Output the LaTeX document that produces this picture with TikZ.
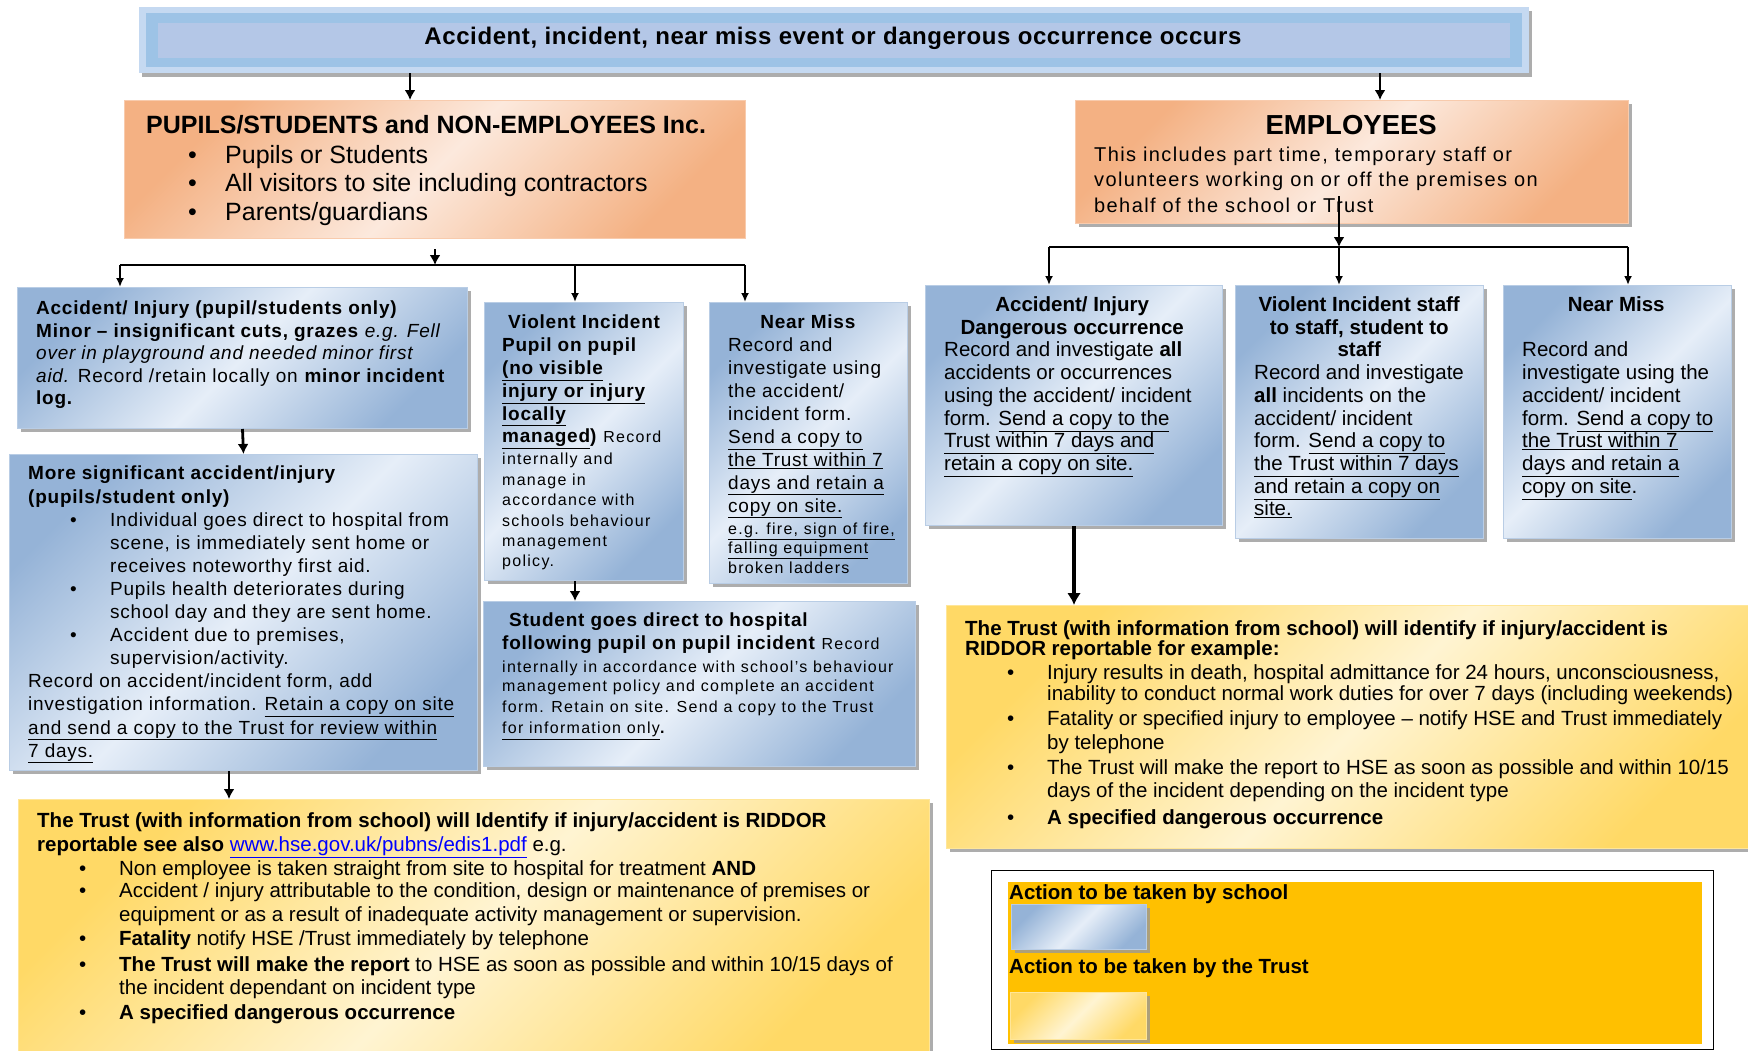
\documentclass[tikz,border=0pt]{standalone}
\usepackage{fontspec}
\setmainfont{Liberation Sans}
\newfontfamily\spfont[LetterSpace=4]{Liberation Sans}
\newfontfamily\spwide[LetterSpace=8]{Liberation Sans}
\newfontfamily\spemp[LetterSpace=7]{Liberation Sans}
\newfontfamily\sptitle[LetterSpace=2.5]{Liberation Sans}
\usetikzlibrary{arrows.meta,shadows}

\definecolor{schooldark}{HTML}{95B3D7}
\definecolor{schoollight}{HTML}{E6EEF8}
\definecolor{schooledge}{HTML}{B9CDE5}
\definecolor{groupdark}{HTML}{F4B183}
\definecolor{grouplight}{HTML}{FCE9DD}
\definecolor{groupedge}{HTML}{F8CBAD}
\definecolor{trustdark}{HTML}{FFD966}
\definecolor{trustlight}{HTML}{FFF4D2}
\definecolor{trustedge}{HTML}{FFE699}
\definecolor{evtouter}{HTML}{C5D9F1}
\definecolor{evtband}{HTML}{9DC3E6}
\definecolor{evtinner}{HTML}{B4C7E7}
\definecolor{legendfill}{HTML}{FFC000}
\definecolor{linkblue}{HTML}{0000FF}

\newcommand{\spsmall}{\spwide\fontsize{16}{20}\selectfont}
\newcommand{\bpt}[1][40pt]{\hspace*{42pt}\makebox[#1][l]{\textbullet}}
\newcommand{\bnx}{\hspace*{82pt}}

\tikzset{
  boxshadow/.style={drop shadow={shadow xshift=3pt,shadow yshift=-3.5pt,fill=black!40,opacity=0.8}},
  schoolbox/.style={anchor=north west, inner sep=0pt, draw=schooledge, line width=1pt,
    top color=schooldark, bottom color=schooldark, middle color=schoollight,
    shading angle=45, boxshadow},
  groupbox/.style={anchor=north west, inner sep=0pt, draw=groupedge, line width=1pt,
    top color=groupdark, bottom color=groupdark, middle color=grouplight,
    shading angle=45},
  trustbox/.style={anchor=north west, inner sep=0pt, draw=trustedge, line width=1pt,
    top color=trustdark, bottom color=trustdark, middle color=trustlight,
    shading angle=45, boxshadow},
  boxtext/.style={anchor=north west, inner sep=0pt, align=left,
    font=\fontsize{20.5}{22.7}\selectfont},
  flow/.style={-{Latex[length=10pt,width=11pt]}, line width=2.8pt},
  branch/.style={-{Latex[length=9pt,width=8pt]}, line width=1.9pt},
  bar/.style={line width=1.9pt}
}

\begin{document}
\begin{tikzpicture}[x=1pt,y=-1pt]
 \useasboundingbox (0,0) rectangle (1748,1050);
 \clip (0,0) rectangle (1748,1050);

 % Top event
 \node[anchor=north west, inner sep=0pt, fill=evtouter, boxshadow,
       minimum width=1390pt, minimum height=66pt] (evt) at (139,7) {};
 \fill[evtband] ([xshift=7pt,yshift=-6pt]evt.north west) rectangle ([xshift=-7pt,yshift=6pt]evt.south east);
 \fill[evtinner] ([xshift=19pt,yshift=-16pt]evt.north west) rectangle ([xshift=-19pt,yshift=15pt]evt.south east);
 \node[font=\sptitle\fontsize{24}{26}\selectfont\bfseries] (evt-t) at (833,38)
     {Accident, incident, near miss event or dangerous occurrence occurs};

 % Groups
 \node[groupbox, minimum width=621pt, minimum height=138pt] (pupils) at (124,100) {};
 \node[groupbox, boxshadow, minimum width=553pt, minimum height=123pt] (emp) at (1075,100) {};

 \node[boxtext, font=\fontsize{25}{28.5}\selectfont] (pupils-t) at (146,115)
     {\textbf{PUPILS/STUDENTS and NON-EMPLOYEES Inc.}\\[1.5pt]
      \bpt[37pt]Pupils or Students\\
      \bpt[37pt]All visitors to site including contractors\\
      \bpt[37pt]Parents/guardians};
 \node[boxtext, font=\spemp\fontsize{20}{25.5}\selectfont] (emp-t) at (1094,115)
     {\makebox[514pt][c]{\normalfont\fontsize{27.5}{28}\selectfont\bfseries EMPLOYEES}\\[1.5pt]
      This includes part time, temporary staff or\\
      volunteers working on or off the premises on\\
      behalf of the school or Trust};

 % Pupils / students branch
 \node[schoolbox, minimum width=450pt, minimum height=141pt] (pacc) at (17,287) {};
 \node[schoolbox, minimum width=468pt, minimum height=316pt] (more) at (9,454) {};
 \node[schoolbox, minimum width=199pt, minimum height=278pt] (pviol) at (484,302) {};
 \node[schoolbox, minimum width=198pt, minimum height=281pt] (pnear) at (709,302) {};
 \node[schoolbox, minimum width=432pt, minimum height=165pt] (stud) at (483,601) {};
 \node[trustbox, minimum width=911pt, minimum height=260pt] (trustL) at (18,799) {};

 \node[boxtext, font=\spfont\fontsize{19}{22.5}\selectfont] (pacc-t) at (36,301)
     {\textbf{Accident/ Injury (pupil/students  only)}\\
      \textbf{Minor – insignificant cuts, grazes} \textit{e.g. Fell}\\
      \textit{over in playground and needed minor first}\\
      \textit{aid.} Record /retain locally on \textbf{minor incident}\\
      \textbf{log.}};
 \node[boxtext, font=\spfont\fontsize{19}{23.1}\selectfont] (more-t) at (28,466)
     {\textbf{More significant accident/injury}\\
      \textbf{(pupils/student only)}\\
      \bpt Individual goes direct to hospital from\\
      \bnx scene, is immediately sent home or\\
      \bnx receives noteworthy first aid.\\
      \bpt Pupils health deteriorates during\\
      \bnx school day and they are sent home.\\
      \bpt Accident due to premises,\\
      \bnx supervision/activity.\\
      Record on accident/incident form, add\\
      investigation information. \underline{Retain a copy on site}\\
      \underline{and send a copy to the Trust for review within}\\
      \underline{7 days.}};
 \node[boxtext, font=\spfont\fontsize{19}{22.8}\selectfont] (pviol-t) at (502,315)
     {\hspace*{6pt}\textbf{Violent Incident}\\
      \textbf{Pupil on pupil}\\
      \textbf{\underline{(no visible}}\\
      \textbf{\underline{injury or injury}}\\
      \textbf{\underline{locally}}\\
      \textbf{\underline{managed})} {\spsmall Record}\\[-1pt]
      {\spsmall internally and}\\[-2.5pt]
      {\spsmall manage in}\\[-2pt]
      {\spsmall accordance with}\\[-2.5pt]
      {\spsmall schools behaviour}\\[-2.5pt]
      {\spsmall management}\\[-2.5pt]
      {\spsmall policy.}};
 \node[boxtext, font=\spfont\fontsize{19}{22.9}\selectfont] (pnear-t) at (728,315)
     {\makebox[160pt][c]{\textbf{Near Miss}}\\
      Record and\\
      investigate using\\
      the accident/\\
      incident form.\\
      \underline{Send a copy to}\\
      \underline{the Trust within 7}\\
      \underline{days and retain a}\\
      \underline{copy on site.}\\[-1pt]
      {\spsmall\underline{e.g. fire, sign of fire,}}\\[-3pt]
      {\spsmall\underline{falling equipment}}\\[-3.5pt]
      {\spsmall broken ladders}};
 \node[boxtext, font=\spfont\fontsize{19}{23}\selectfont] (stud-t) at (502,613)
     {\hspace*{7pt}\textbf{Student goes direct to hospital}\\
      \textbf{following pupil on pupil incident} {\spsmall Record}\\
      {\spsmall internally in accordance with school’s behaviour}\\[-4pt]
      {\spsmall management policy and complete an accident}\\[-2pt]
      {\spsmall form. Retain on site. Send a copy to the Trust}\\[-2pt]
      {\spsmall\underline{for information only}\textbf{.}}};
 \node[boxtext, font=\fontsize{20.5}{24}\selectfont] (trustL-t) at (37,812)
     {\textbf{The Trust (with information  from school) will Identify  if injury/accident is RIDDOR}\\
      \textbf{reportable see also} \textcolor{linkblue}{\underline{www.hse.gov.uk/pubns/edis1.pdf}} e.g.\\
      \bpt Non employee is taken straight from site to hospital for treatment \textbf{AND}\\[-2pt]
      \bpt Accident / injury attributable to the condition, design or maintenance of premises or\\
      \bnx equipment or as a result of inadequate activity management or supervision.\\
      \bpt \textbf{Fatality} notify HSE /Trust immediately by telephone\\[2pt]
      \bpt \textbf{The Trust will make the report} to HSE as soon as possible and within 10/15 days of\\[-1pt]
      \bnx the incident dependant on incident type\\[1pt]
      \bpt \textbf{A specified dangerous occurrence}};

 % Employees branch
 \node[schoolbox, minimum width=297pt, minimum height=240pt] (eacc) at (925,285) {};
 \node[schoolbox, minimum width=248pt, minimum height=253pt] (eviol) at (1235,285) {};
 \node[schoolbox, minimum width=228pt, minimum height=253pt] (enear) at (1503,285) {};
 \node[trustbox, minimum width=820pt, minimum height=243pt] (trustR) at (946,605) {};

 \node[boxtext] (eacc-t) at (944,296.5)
     {\makebox[256pt][c]{\textbf{Accident/ Injury}}\\
      \makebox[256pt][c]{\textbf{Dangerous occurrence}}\\
      Record and investigate \textbf{all}\\
      accidents or occurrences\\
      using the accident/ incident\\
      form. \underline{Send a copy to the}\\
      \underline{Trust within 7 days and}\\
      \underline{retain a copy on site.}};
 \node[boxtext] (eviol-t) at (1254,296.5)
     {\makebox[210pt][c]{\textbf{Violent Incident  staff}}\\
      \makebox[210pt][c]{\textbf{to staff, student to}}\\
      \makebox[210pt][c]{\textbf{staff}}\\
      Record and investigate\\
      \textbf{all} incidents on the\\
      accident/ incident\\
      form. \underline{Send a copy to}\\
      \underline{the Trust within 7 days}\\
      \underline{and retain a copy on}\\
      \underline{site.}};
 \node[boxtext] (enear-t) at (1522,296.5)
     {\makebox[188pt][c]{\textbf{Near Miss}}\\[22.7pt]
      Record and\\
      investigate using the\\
      accident/ incident\\
      form. \underline{Send a copy to}\\
      \underline{the Trust within 7}\\
      \underline{days and retain a}\\
      \underline{copy on site}.};
 \node[boxtext, font=\fontsize{20.5}{23}\selectfont] (trustR-t) at (965,620.5)
     {\textbf{The Trust (with information  from school) will identify  if injury/accident is}\\[-3pt]
      \textbf{RIDDOR reportable for example:}\\[1pt]
      \bpt Injury results in death, hospital admittance for 24 hours, unconsciousness,\\[-2pt]
      \bnx inability to conduct normal work duties for over 7 days (including weekends)\\[2pt]
      \bpt Fatality or specified injury to employee – notify HSE and Trust immediately\\[1pt]
      \bnx by telephone\\[2pt]
      \bpt The Trust will make the report to HSE as soon as possible and within 10/15\\
      \bnx days of the incident depending on the incident type\\[4pt]
      \bpt \textbf{A specified dangerous occurrence}};

 % Key
 \node[anchor=north west, inner sep=0pt, draw=black, line width=1.2pt, fill=white,
       minimum width=722pt, minimum height=179pt] (legend) at (991,870) {};
 \fill[legendfill] ([xshift=17pt,yshift=-12pt]legend.north west) rectangle ([xshift=-12pt,yshift=6pt]legend.south east);
 \node[boxtext] (leg-school) at (1009,884.5) {\textbf{Action  to be taken by school}};
 \node[schoolbox, minimum width=135pt, minimum height=45pt] (sw-school) at (1011,904) {};
 \node[boxtext] (leg-trust) at (1009,958.5) {\textbf{Action  to be taken by the Trust}};
 \node[trustbox, minimum width=136pt, minimum height=47pt] (sw-trust) at (1010,992) {};

 % Connectors
 \coordinate (toP) at (410,0);
 \coordinate (toE) at (1380,0);
 \draw[flow] (evt.south -| toP) -- (pupils.north -| toP);
 \draw[flow] (evt.south -| toE) -- (emp.north -| toE);

 \coordinate (pl) at (120,265);
 \coordinate (pm) at (575,265);
 \coordinate (pr) at (745,265);
 \draw[flow, shorten <=10pt] (pupils.south) -- (pupils.south |- pm);
 \draw[bar] (pl) -- (pr);
 \draw[branch] (pl) -- (pl |- pacc.north);
 \draw[branch] (pm) -- (pm |- pviol.north);
 \draw[branch] (pr) -- (pr |- pnear.north);
 \draw[flow] (pacc.south) -- (more.north);
 \coordinate (toT) at (229,0);
 \draw[flow] (more.south -| toT) -- (trustL.north -| toT);
 \draw[flow] (pviol.south -| pm) -- (stud.north -| pm);

 \coordinate (el) at (1049,247);
 \coordinate (em) at (1339,247);
 \coordinate (er) at (1628,247);
 \draw[flow, shorten <=-28pt] (emp.south -| em) -- (em);
 \draw[bar] (el) -- (er);
 \draw[branch] (el) -- (el |- eacc.north);
 \draw[branch] (em) -- (em |- eviol.north);
 \draw[branch] (er) -- (er |- enear.north);
 \draw[-{Latex[length=12pt,width=14pt]}, line width=4pt] (eacc.south) -- (eacc.south |- trustR.north);
\end{tikzpicture}
\end{document}
